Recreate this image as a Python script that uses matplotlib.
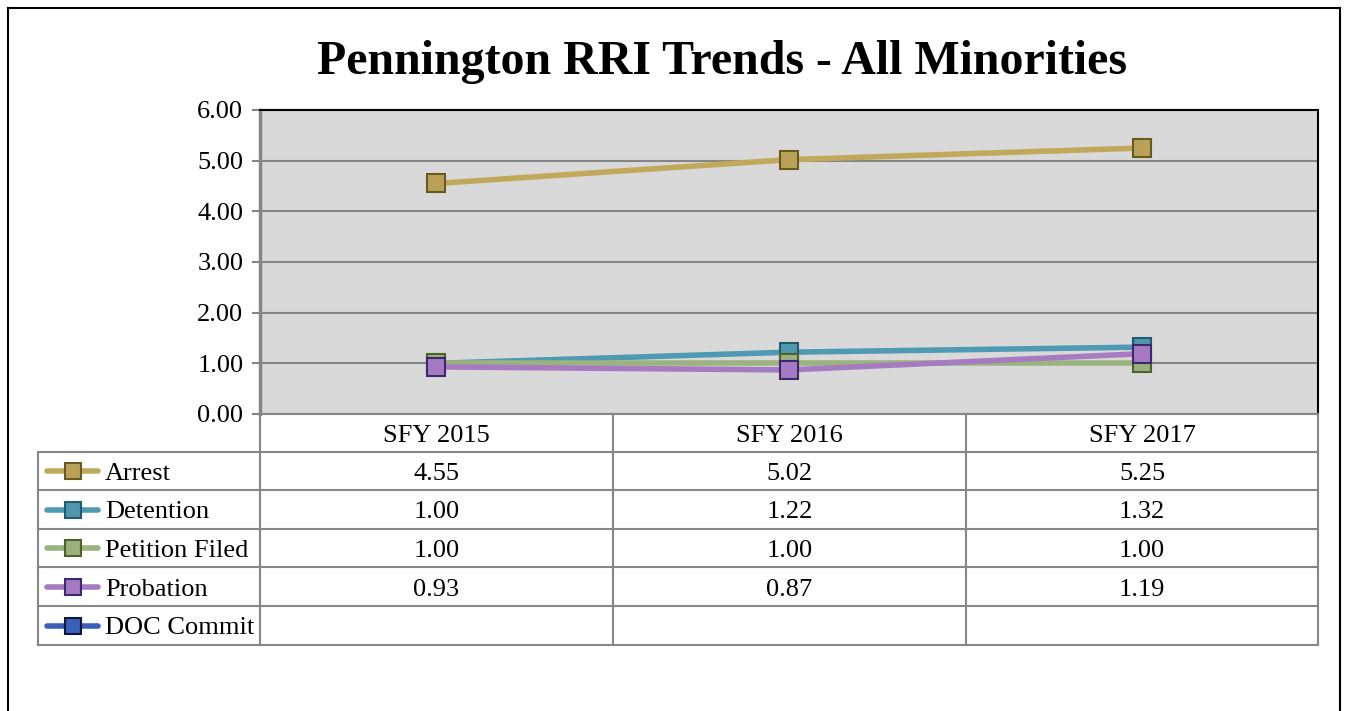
import matplotlib
matplotlib.use("Agg")
import matplotlib.pyplot as plt
from matplotlib.lines import Line2D
import numpy as np

categories = ["SFY 2015", "SFY 2016", "SFY 2017"]
series_names = ["Arrest", "Detention", "Petition Filed", "Probation", "DOC Commit"]
arrest = [4.55, 5.02, 5.25]
detention = [1.00, 1.22, 1.32]
petition = [1.00, 1.00, 1.00]
probation = [0.93, 0.87, 1.19]
doc_commit = [None, None, None]
yticks = [0, 1, 2, 3, 4, 5, 6]
title = "Pennington RRI Trends - All Minorities"

series_values = [arrest, detention, petition, probation, doc_commit]
line_colors = ["#C1A95C", "#4E9AB2", "#9BB37E", "#A77BC1", "#3A5FB8"]
face_colors = ["#B9A258", "#4F96AE", "#9AB07E", "#A57AC2", "#3A5FB8"]
edge_colors = ["#6A5A1E", "#215B6E", "#4F6228", "#3D2A6E", "#101838"]

W, H = 1347, 711
fig = plt.figure(figsize=(W / 100, H / 100), dpi=100)
font = "Liberation Serif"
plt.rcParams["font.family"] = [font, "DejaVu Serif"]

def fx(px):
    return px / W

def fy(py):
    return 1 - py / H

L, R, T, B = 260, 1318, 110, 414
ax = fig.add_axes([fx(L), fy(B), fx(R) - fx(L), fy(T) - fy(B)])
ax.set_facecolor("#D9D9D9")
x = np.arange(len(categories))
for name, vals, lc, fc, ec in zip(series_names, series_values, line_colors, face_colors, edge_colors):
    v = np.array([np.nan if a is None else a for a in vals], dtype=float)
    ax.plot(x, v, color=lc, lw=4, marker="s", ms=13, mfc=fc, mec=ec, mew=1.5,
            solid_capstyle="round", zorder=3)
ax.set_xlim(-0.5, len(categories) - 0.5)
ax.set_ylim(0, 6)
ax.set_yticks(yticks)
ax.set_yticklabels([f"{t:.2f}" for t in yticks], fontsize=19, fontfamily=font)
ax.set_xticks([])
ax.grid(axis="y", color="#868686", lw=1.5, zorder=1)
ax.set_axisbelow(True)
ax.tick_params(axis="y", length=6, width=1.5, color="#868686", pad=6)
for s in ["top", "right"]:
    ax.spines[s].set_color("black")
    ax.spines[s].set_linewidth(1.5)
ax.spines["left"].set_color("#868686")
ax.spines["left"].set_linewidth(2.5)
ax.spines["bottom"].set_color("#868686")
ax.spines["bottom"].set_linewidth(1.5)

# Title
fig.text(fx(722), fy(62), title, ha="center", va="center", fontsize=34.5,
         fontweight="bold", fontfamily=font)

# Data table
grid_c = "#868686"
col_edges = [L, 613, 966, R]
row_edges = [452, 490, 529, 567, 606, 645]
tl = 38

def hline(y, x0, x1):
    fig.add_artist(Line2D([fx(x0), fx(x1)], [fy(y), fy(y)], color=grid_c, lw=1.5))

def vline(xp, y0, y1):
    fig.add_artist(Line2D([fx(xp), fx(xp)], [fy(y0), fy(y1)], color=grid_c, lw=1.5))

for yy in row_edges:
    hline(yy, tl, R)
vline(tl, row_edges[0], row_edges[-1])
for xe in col_edges:
    vline(xe, B, row_edges[-1])

centers = [(col_edges[i] + col_edges[i + 1]) / 2 for i in range(len(categories))]
for c, cat in zip(centers, categories):
    fig.text(fx(c), fy((B + row_edges[0]) / 2 + 3), cat, ha="center", va="center",
             fontsize=19, fontfamily=font)

for i, (name, vals, lc, fc, ec) in enumerate(zip(series_names, series_values, line_colors, face_colors, edge_colors)):
    yc = (row_edges[i] + row_edges[i + 1]) / 2
    fig.add_artist(Line2D([fx(47), fx(98)], [fy(yc), fy(yc)], color=lc, lw=4,
                          solid_capstyle="round"))
    fig.add_artist(Line2D([fx(72.5)], [fy(yc)], color=lc, marker="s", ms=12,
                          mfc=fc, mec=ec, mew=1.5))
    fig.text(fx(105), fy(yc + 3), name, ha="left", va="center", fontsize=19,
             fontfamily=font)
    for c, v in zip(centers, vals):
        if v is not None:
            fig.text(fx(c), fy(yc + 3), f"{v:.2f}", ha="center", va="center",
                     fontsize=19, fontfamily=font)

# Outer border
for xs, ys in [([8, 8], [8, 711]), ([8, 1340], [8, 8]), ([1340, 1340], [8, 711])]:
    fig.add_artist(Line2D([fx(a) for a in xs], [fy(b) for b in ys], color="black", lw=1.5))

fig.savefig("out.png", dpi=100, facecolor="white")
